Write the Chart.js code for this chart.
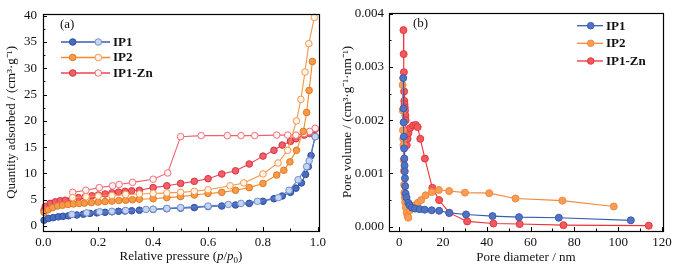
<!DOCTYPE html>
<html>
<head>
<meta charset="utf-8">
<script src="https://cdn.jsdelivr.net/npm/chart.js@4.4.1/dist/chart.umd.min.js"></script>
<style>
  html, body { margin: 0; padding: 0; background: #fff; }
  #wrap { position: relative; width: 678px; height: 271px; }
  .panel { position: absolute; top: 0; height: 271px; }
  #pa { left: 0; width: 340px; }
  #pb { left: 340px; width: 338px; }
</style>
</head>
<body>
<div id="wrap">
  <div class="panel" id="pa"><canvas id="isoChart" width="340" height="271"></canvas></div>
  <div class="panel" id="pb"><canvas id="poreChart" width="338" height="271"></canvas></div>
</div>
<script>
// (a) N2 isotherms - relative pressure vs quantity adsorbed
const ip1AdsP = [0.003,0.019,0.037,0.055,0.072,0.092,0.122,0.146,0.17,0.195,0.225,0.25,0.274,0.298,0.322,0.35,0.40,0.45,0.50,0.55,0.60,0.65,0.70,0.75,0.80,0.84,0.87,0.90,0.92,0.94,0.955,0.965,0.975,0.99];
const ip1AdsV = [1.1,1.45,1.6,1.75,1.85,1.95,2.1,2.25,2.4,2.5,2.6,2.7,2.8,2.85,2.9,3.0,3.15,3.3,3.4,3.5,3.7,3.8,4.0,4.3,4.7,5.2,5.7,6.4,7.2,8.2,9.8,11.3,13.4,17.0];
const ip1DesP = [0.99,0.968,0.959,0.928,0.895,0.856,0.78,0.72,0.674,0.6,0.5,0.45,0.40,0.374,0.30,0.25,0.205,0.158,0.104];
const ip1DesV = [17.0,12.4,11.3,8.8,6.8,5.4,4.7,4.3,4.1,3.8,3.5,3.35,3.2,3.15,2.95,2.8,2.7,2.5,2.2];

const ip2AdsP = [0.003,0.018,0.034,0.052,0.07,0.09,0.11,0.13,0.15,0.175,0.2,0.225,0.25,0.275,0.30,0.325,0.35,0.40,0.45,0.50,0.55,0.60,0.65,0.70,0.75,0.80,0.85,0.876,0.898,0.922,0.947,0.959,0.968,0.98];
const ip2AdsV = [2.6,3.1,3.5,3.8,3.95,4.1,4.2,4.3,4.35,4.45,4.55,4.65,4.75,4.85,4.9,5.0,5.1,5.2,5.4,5.6,5.9,6.2,6.4,6.8,7.3,8.1,9.7,10.6,12.2,14.4,18.0,21.6,25.8,31.3];
const ip2DesP = [0.987,0.967,0.953,0.938,0.922,0.89,0.855,0.80,0.73,0.68,0.60,0.55,0.50,0.45,0.40,0.35,0.30,0.25,0.2,0.156,0.107];
const ip2DesV = [39.7,34.7,29.3,24.1,20.0,14.4,12.0,9.9,8.2,7.65,6.9,6.6,6.4,6.3,6.2,6.1,6.0,5.8,5.7,5.56,5.4];

const znAdsP = [0.003,0.007,0.025,0.044,0.062,0.08,0.104,0.128,0.153,0.177,0.2,0.225,0.25,0.274,0.298,0.322,0.35,0.40,0.45,0.50,0.55,0.60,0.65,0.70,0.75,0.80,0.84,0.87,0.90,0.92,0.95,0.97,0.98,0.99];
const znAdsV = [3.0,3.7,4.3,4.6,4.8,4.9,5.1,5.4,5.55,5.75,5.9,6.1,6.3,6.45,6.6,6.7,6.8,7.3,7.65,8.1,8.5,9.0,9.9,10.5,11.8,13.3,14.4,15.4,16.1,16.6,17.3,17.6,18.0,18.4];
const znDesP = [0.99,0.97,0.95,0.92,0.89,0.85,0.77,0.72,0.67,0.575,0.50,0.453,0.40,0.325,0.276,0.252,0.204,0.155,0.107];
const znDesV = [18.6,18.0,17.6,17.3,17.3,17.3,17.2,17.2,17.2,17.2,17.0,10.1,8.9,8.3,7.9,7.65,7.3,6.8,6.4];

// (b) pore size distribution - pore diameter (nm) vs pore volume
const ip1PoreD = [1.8,1.9,2.0,2.1,2.2,2.3,2.4,2.5,2.6,2.7,2.9,3.3,4.1,4.8,5.8,7.2,9.3,11.6,14.8,18.2,22.8,30.5,42.6,54.7,72.9,105.8];
const ip1PoreV = [0.00279,0.00222,0.00196,0.00169,0.00147,0.00128,0.00115,0.00104,0.00091,0.00076,0.00062,0.00055,0.00045,0.0004,0.00036,0.00034,0.00033,0.00032,0.00031,0.0003,0.00026,0.00023,0.0002,0.00018,0.00017,0.00012];
const ip2PoreD = [1.5,1.6,1.7,1.8,1.9,2.0,2.1,2.2,2.3,2.5,2.7,3.0,3.4,3.8,4.1,4.9,5.8,7.0,8.5,10.0,12.0,14.8,18.1,22.8,30.0,41.1,53.1,74.5,98.0];
const ip2PoreV = [0.00266,0.00218,0.00181,0.00165,0.00153,0.00125,0.00105,0.00079,0.00064,0.00055,0.00046,0.00036,0.00026,0.0002,0.00017,0.00031,0.00036,0.0004,0.00045,0.0005,0.00059,0.00065,0.00069,0.00067,0.00064,0.00063,0.00053,0.00049,0.00038];
const znPoreD = [1.9,2.0,2.1,2.2,2.3,2.4,2.5,2.6,2.8,2.9,3.1,3.4,3.8,4.2,4.9,6.3,7.5,8.4,9.6,11.7,15.1,18.2,22.9,31.0,43.0,55.0,75.0,114.0];
const znPoreV = [0.00369,0.00324,0.0029,0.00254,0.00236,0.0023,0.00224,0.00218,0.00209,0.002,0.00165,0.00153,0.00165,0.00176,0.00185,0.0019,0.00191,0.00187,0.00165,0.00128,0.00073,0.0005,0.00026,0.0001,0.00006,0.00005,0.00003,0.00002];

// tick labels
const isoXTicks = [0, 0.2, 0.4, 0.6, 0.8, 1.0];
const isoYTicks = [0, 5, 10, 15, 20, 25, 30, 35, 40];
const poreXTicks = [0, 20, 40, 60, 80, 100, 120];
const poreYTicks = [0, 0.001, 0.002, 0.003, 0.004];

const seriesNames = ['IP1', 'IP2', 'IP1-Zn'];

const SERIF = "'Liberation Serif', 'Times New Roman', serif";
const BLUE = '#3a5cb0', ORANGE = '#f28a2e', RED = '#ec4452';

function pts(xs, ys) {
  return xs.map((x, i) => ({ x: x, y: ys[i] }));
}

function isoSet(label, xs, ys, line, fill, edge) {
  return {
    label: label, data: pts(xs, ys), showLine: true,
    borderColor: line, borderWidth: 1.1,
    pointRadius: 3.3, pointBorderWidth: 1,
    pointBackgroundColor: fill, pointBorderColor: edge,
    clip: false
  };
}

// inward tick marks + frame
const frameTicks = {
  id: 'frameTicks',
  afterDraw(chart, args, o) {
    const { ctx, chartArea: a, scales } = chart;
    ctx.save();
    ctx.strokeStyle = '#000';
    ctx.lineWidth = 1;
    ctx.beginPath();
    o.xMajor.forEach(v => { const x = Math.round(scales.x.getPixelForValue(v)) + 0.5; ctx.moveTo(x, a.bottom); ctx.lineTo(x, a.bottom - 4); });
    o.xMinor.forEach(v => { const x = Math.round(scales.x.getPixelForValue(v)) + 0.5; ctx.moveTo(x, a.bottom); ctx.lineTo(x, a.bottom - 2.5); });
    o.yMajor.forEach(v => { const y = Math.round(scales.y.getPixelForValue(v)) + 0.5; ctx.moveTo(a.left, y); ctx.lineTo(a.left + 4, y); });
    o.yMinor.forEach(v => { const y = Math.round(scales.y.getPixelForValue(v)) + 0.5; ctx.moveTo(a.left, y); ctx.lineTo(a.left + 2.5, y); });
    ctx.stroke();
    ctx.lineWidth = 1.2;
    ctx.strokeRect(Math.round(a.left) + 0.5, Math.round(a.top) + 0.5, Math.round(a.right - a.left), Math.round(a.bottom - a.top));

    // x title with italic parts (only where given)
    if (o.xTitle) {
      const parts = o.xTitle;
      let w = 0;
      parts.forEach(p => { ctx.font = p.font; w += ctx.measureText(p.t).width; });
      let x = (a.left + a.right) / 2 - w / 2;
      ctx.fillStyle = '#111';
      ctx.textBaseline = 'alphabetic';
      parts.forEach(p => {
        ctx.font = p.font;
        ctx.fillText(p.t, x, o.xTitleY + (p.dy || 0));
        x += ctx.measureText(p.t).width;
      });
    }
    ctx.restore();
  }
};

// legends drawn inside the frame
const panelLegend = {
  id: 'panelLegend',
  afterDraw(chart, args, o) {
    const ctx = chart.ctx;
    ctx.save();
    ctx.textBaseline = 'middle';
    ctx.fillStyle = '#111';
    ctx.font = '13px ' + SERIF;
    ctx.fillText(o.tag, o.tagX, o.tagY);
    o.items.forEach((it, i) => {
      const y = o.rows[i];
      ctx.strokeStyle = it.line;
      ctx.lineWidth = 1.3;
      ctx.beginPath();
      ctx.moveTo(o.x0, y); ctx.lineTo(o.x1, y);
      ctx.stroke();
      it.marks.forEach(m => {
        ctx.beginPath();
        ctx.arc(m.x, y, 3.3, 0, Math.PI * 2);
        ctx.fillStyle = m.fill; ctx.fill();
        ctx.strokeStyle = m.edge; ctx.lineWidth = 1; ctx.stroke();
      });
      ctx.fillStyle = '#111';
      ctx.font = 'bold 13px ' + SERIF;
      ctx.fillText(it.label, o.tx, y + 0.5);
    });
    ctx.restore();
  }
};

function axisX(min, max, ticks, fmt, title, titlePad) {
  return {
    type: 'linear', min: min, max: max,
    afterBuildTicks: s => { s.ticks = ticks.map(v => ({ value: v })); },
    afterFit: s => { s.height = 40; },
    grid: { display: false, drawTicks: false }, border: { display: false },
    ticks: { padding: 4, color: '#111', font: { family: SERIF, size: 13 }, callback: fmt, maxRotation: 0 },
    title: { display: !!title, text: title || '', color: '#111', font: { family: SERIF, size: 13 }, padding: { top: 0, bottom: titlePad } }
  };
}

function axisY(min, max, ticks, fmt, title, width, titlePad, tickPad) {
  return {
    type: 'linear', min: min, max: max,
    afterBuildTicks: s => { s.ticks = ticks.map(v => ({ value: v })); },
    afterFit: s => { s.width = width; },
    grid: { display: false, drawTicks: false }, border: { display: false },
    ticks: { padding: tickPad, color: '#111', font: { family: SERIF, size: 13 }, callback: fmt },
    title: { display: true, text: title, color: '#111', font: { family: SERIF, size: 13 }, padding: { top: titlePad, bottom: 0 } }
  };
}

new Chart(document.getElementById('isoChart'), {
  type: 'scatter',
  data: {
    datasets: [
      isoSet('IP1 des', ip1DesP, ip1DesV, '#5a7cc8', '#c9d5ee', '#6f8fd2'),
      isoSet('IP1', ip1AdsP, ip1AdsV, BLUE, '#4a6cc0', '#2f4f9f'),
      isoSet('IP2 des', ip2DesP, ip2DesV, '#f5964a', '#fff4ea', '#f5964a'),
      isoSet('IP2', ip2AdsP, ip2AdsV, ORANGE, '#f79a4a', '#e07a20'),
      isoSet('IP1-Zn des', znDesP, znDesV, '#f0606c', '#fff2f3', '#f0707a'),
      isoSet('IP1-Zn', znAdsP, znAdsV, RED, '#f0606a', '#d93040')
    ]
  },
  options: {
    responsive: false, animation: false,
    layout: { padding: { top: 13, right: 21, bottom: 0, left: 0 } },
    scales: {
      x: axisX(-0.001, 1.004, isoXTicks, v => v.toFixed(1), null, 6),
      y: axisY(-0.95, 40.38, isoYTicks, v => String(v), 'Quantity adsorbed / (cm\u00b3\u00b7g\u207b\u00b9)', 43, 4, 6)
    },
    plugins: {
      legend: { display: false }, tooltip: { enabled: false },
      frameTicks: {
        xMajor: isoXTicks, xMinor: [0.1, 0.3, 0.5, 0.7, 0.9],
        yMajor: isoYTicks, yMinor: [2.5, 7.5, 12.5, 17.5, 22.5, 27.5, 32.5, 37.5],
        xTitleY: 260,
        xTitle: [
          { t: 'Relative pressure (', font: '13px ' + SERIF },
          { t: 'p', font: 'italic 13px ' + SERIF },
          { t: '/', font: '13px ' + SERIF },
          { t: 'p', font: 'italic 13px ' + SERIF },
          { t: '0', font: '9px ' + SERIF, dy: 3 },
          { t: ')', font: '13px ' + SERIF }
        ]
      },
      panelLegend: {
        tag: '(a)', tagX: 60, tagY: 25,
        x0: 61, x1: 110, tx: 113, rows: [42, 57.5, 73],
        items: [
          { label: seriesNames[0], line: BLUE, marks: [{ x: 72.7, fill: '#4a6cc0', edge: '#2f4f9f' }, { x: 98.3, fill: '#c9d5ee', edge: '#6f8fd2' }] },
          { label: seriesNames[1], line: ORANGE, marks: [{ x: 72.7, fill: '#f79a4a', edge: '#e07a20' }, { x: 98.3, fill: '#fff4ea', edge: '#f5964a' }] },
          { label: seriesNames[2], line: RED, marks: [{ x: 72.7, fill: '#f0606a', edge: '#d93040' }, { x: 98.3, fill: '#fff2f3', edge: '#f0707a' }] }
        ]
      }
    }
  },
  plugins: [frameTicks, panelLegend]
});

const P_BLUE = '#3b5cae', P_ORANGE = '#f5883a', P_RED = '#e8343a';

function poreSet(label, xs, ys, color, fill) {
  return {
    label: label, data: pts(xs, ys), showLine: true,
    borderColor: color, borderWidth: 1.1,
    pointRadius: 3.5, pointBorderWidth: 1,
    pointBackgroundColor: fill, pointBorderColor: color,
    clip: false
  };
}

new Chart(document.getElementById('poreChart'), {
  type: 'scatter',
  data: {
    datasets: [
      poreSet(seriesNames[0], ip1PoreD, ip1PoreV, P_BLUE, '#5273c2'),
      poreSet(seriesNames[1], ip2PoreD, ip2PoreV, P_ORANGE, '#f89d55'),
      poreSet(seriesNames[2], znPoreD, znPoreV, P_RED, '#f05a5e')
    ]
  },
  options: {
    responsive: false, animation: false,
    layout: { padding: { top: 9, right: 15, bottom: 0, left: 0 } },
    scales: {
      x: axisX(-4.7, 120.5, poreXTicks, v => String(v), 'Pore diameter / nm', 6),
      y: axisY(-0.00008, 0.004015, poreYTicks, v => v.toFixed(3), 'Pore volume / (cm\u00b3\u00b7g\u207b\u00b9\u00b7nm\u207b\u00b9)', 49, 0, 5)
    },
    plugins: {
      legend: { display: false }, tooltip: { enabled: false },
      frameTicks: {
        xMajor: poreXTicks, xMinor: [10, 30, 50, 70, 90, 110],
        yMajor: poreYTicks, yMinor: [0.0005, 0.0015, 0.0025, 0.0035]
      },
      panelLegend: {
        tag: '(b)', tagX: 73, tagY: 24,
        x0: 237, x1: 263, tx: 266, rows: [25.7, 43.3, 61],
        items: [
          { label: seriesNames[0], line: P_BLUE, marks: [{ x: 250.7, fill: '#5273c2', edge: P_BLUE }] },
          { label: seriesNames[1], line: P_ORANGE, marks: [{ x: 250.7, fill: '#f89d55', edge: P_ORANGE }] },
          { label: seriesNames[2], line: P_RED, marks: [{ x: 250.7, fill: '#f05a5e', edge: P_RED }] }
        ]
      }
    }
  },
  plugins: [frameTicks, panelLegend]
});
</script>
</body>
</html>
